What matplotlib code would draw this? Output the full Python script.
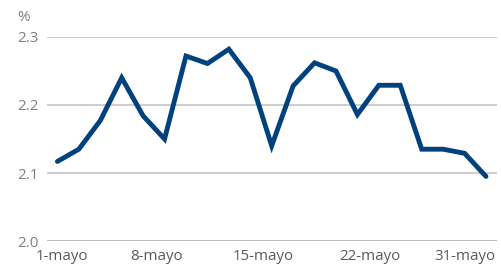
import matplotlib
matplotlib.use("Agg")
import numpy as np
from matplotlib import pyplot as plt

# daily values, %
values = [2.117, 2.135, 2.177, 2.240, 2.184, 2.150, 2.272, 2.261, 2.282, 2.240,
          2.140, 2.228, 2.262, 2.250, 2.186, 2.229, 2.229, 2.135, 2.135, 2.129, 2.095]
tick_labels = ["1-mayo", "8-mayo", "15-mayo", "22-mayo", "31-mayo"]
tick_pos = [0.2, 4.65, 9.6, 14.6, 19.0]
y_ticks = [2.0, 2.1, 2.2, 2.3]

plt.rcParams['font.family'] = ['Open Sans', 'DejaVu Sans']

fig = plt.figure(figsize=(5.01, 2.68), dpi=100)
ax = fig.add_axes([0.0932, 0.1007, 0.8982, 0.7613])

x = np.arange(len(values))
ax.plot(x, values, color="#00417e", linewidth=3.5, solid_joinstyle="miter",
        solid_capstyle="round", zorder=3)

ax.set_xlim(-0.5, 20.5)
ax.set_ylim(2.0, 2.3)
ax.set_yticks(y_ticks)
ax.set_yticklabels([f"{v:.1f}" for v in y_ticks])
for v in y_ticks[1:]:
    ax.axhline(v, color="#c8c8c8", linewidth=1.3, zorder=1)
ax.axhline(2.0, color="#a6a6a6", linewidth=1.8, zorder=2)

ax.set_xticks(tick_pos)
ax.set_xticklabels(tick_labels)
ax.tick_params(axis="x", length=0, pad=6, labelsize=10.8, labelcolor="#595959")
ax.tick_params(axis="y", length=0, pad=6, labelsize=11, labelcolor="#808080")

for s in ax.spines.values():
    s.set_visible(False)

fig.text(0.034, 0.935, "%", fontsize=11, color="#808080", ha="left", va="center")

fig.savefig("out.png", dpi=100)
